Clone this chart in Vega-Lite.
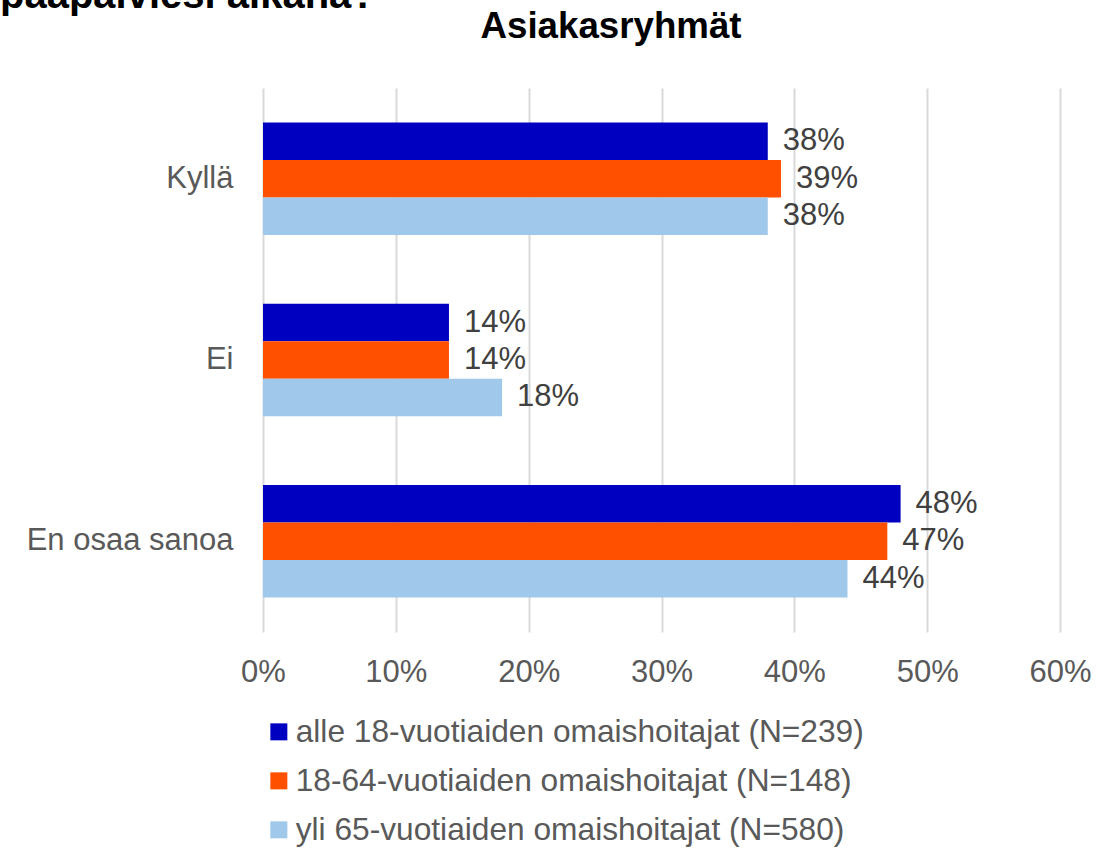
{
  "$schema": "https://vega.github.io/schema/vega-lite/v6.json",
  "autosize": {"type": "none"},
  "width": 797,
  "height": 544,
  "padding": {"left": 263, "top": 88, "right": 60, "bottom": 216},
  "background": "white",
  "config": {
    "font": "Liberation Sans",
    "view": {"stroke": null}
  },
  "title": {
    "text": "paapäiviesi aikana?",
    "anchor": "start",
    "frame": "group",
    "dx": -263,
    "offset": -40,
    "baseline": "alphabetic",
    "fontSize": 40,
    "fontWeight": "bold",
    "color": "#000000",
    "font": "Liberation Sans"
  },
  "data": {
    "values": [
      {"vastaus": "Kyllä", "ryhma": "alle 18-vuotiaiden omaishoitajat (N=239)", "osuus": 0.38},
      {"vastaus": "Kyllä", "ryhma": "18-64-vuotiaiden omaishoitajat (N=148)", "osuus": 0.39},
      {"vastaus": "Kyllä", "ryhma": "yli 65-vuotiaiden omaishoitajat (N=580)", "osuus": 0.38},
      {"vastaus": "Ei", "ryhma": "alle 18-vuotiaiden omaishoitajat (N=239)", "osuus": 0.14},
      {"vastaus": "Ei", "ryhma": "18-64-vuotiaiden omaishoitajat (N=148)", "osuus": 0.14},
      {"vastaus": "Ei", "ryhma": "yli 65-vuotiaiden omaishoitajat (N=580)", "osuus": 0.18},
      {"vastaus": "En osaa sanoa", "ryhma": "alle 18-vuotiaiden omaishoitajat (N=239)", "osuus": 0.48},
      {"vastaus": "En osaa sanoa", "ryhma": "18-64-vuotiaiden omaishoitajat (N=148)", "osuus": 0.47},
      {"vastaus": "En osaa sanoa", "ryhma": "yli 65-vuotiaiden omaishoitajat (N=580)", "osuus": 0.44}
    ]
  },
  "encoding": {
    "y": {
      "field": "vastaus",
      "type": "nominal",
      "sort": ["Kyllä", "Ei", "En osaa sanoa"],
      "scale": {"paddingInner": 0.38, "paddingOuter": 0.19},
      "axis": {
        "title": "Asiakasryhmät",
        "titleAngle": 0,
        "titleAlign": "left",
        "titleBaseline": "alphabetic",
        "titleX": 217,
        "titleY": -51,
        "titleFontSize": 36.7,
        "titleFontWeight": "bold",
        "titleColor": "#000000",
        "titleFont": "Liberation Sans",
        "labelFontSize": 31,
        "labelColor": "#595959",
        "labelPadding": 30,
        "labelLimit": 400,
        "ticks": false,
        "domain": false,
        "grid": false
      }
    },
    "yOffset": {
      "field": "ryhma",
      "type": "nominal",
      "sort": ["alle 18-vuotiaiden omaishoitajat (N=239)", "18-64-vuotiaiden omaishoitajat (N=148)", "yli 65-vuotiaiden omaishoitajat (N=580)"],
      "scale": {"paddingInner": 0, "paddingOuter": 0}
    },
    "x": {
      "field": "osuus",
      "type": "quantitative",
      "scale": {"domain": [0, 0.6], "nice": false},
      "axis": {
        "title": null,
        "format": ".0%",
        "values": [0, 0.1, 0.2, 0.3, 0.4, 0.5, 0.6],
        "labelFontSize": 31,
        "labelColor": "#595959",
        "labelPadding": 25,
        "labelFlush": false,
        "labelBound": false,
        "labelOverlap": false,
        "ticks": false,
        "domain": false,
        "grid": true,
        "gridColor": "#D9D9D9",
        "gridWidth": 2
      }
    }
  },
  "layer": [
    {
      "mark": {"type": "bar"},
      "encoding": {
        "color": {
          "field": "ryhma",
          "type": "nominal",
          "scale": {
            "domain": ["alle 18-vuotiaiden omaishoitajat (N=239)", "18-64-vuotiaiden omaishoitajat (N=148)", "yli 65-vuotiaiden omaishoitajat (N=580)"],
            "range": ["#0000C0", "#FF5000", "#A0C8EA"]
          },
          "legend": {
            "title": null,
            "orient": "none",
            "legendX": 0,
            "legendY": 628,
            "direction": "vertical",
            "symbolType": "square",
            "symbolSize": 289,
            "symbolStrokeWidth": 0,
            "labelFontSize": 31.7,
            "labelColor": "#595959",
            "labelOffset": 1,
            "labelLimit": 900,
            "rowPadding": 16
          }
        }
      }
    },
    {
      "mark": {"type": "text", "align": "left", "baseline": "middle", "dx": 15, "fontSize": 31, "color": "#404040"},
      "encoding": {
        "text": {"field": "osuus", "type": "quantitative", "format": ".0%"}
      }
    }
  ]
}
